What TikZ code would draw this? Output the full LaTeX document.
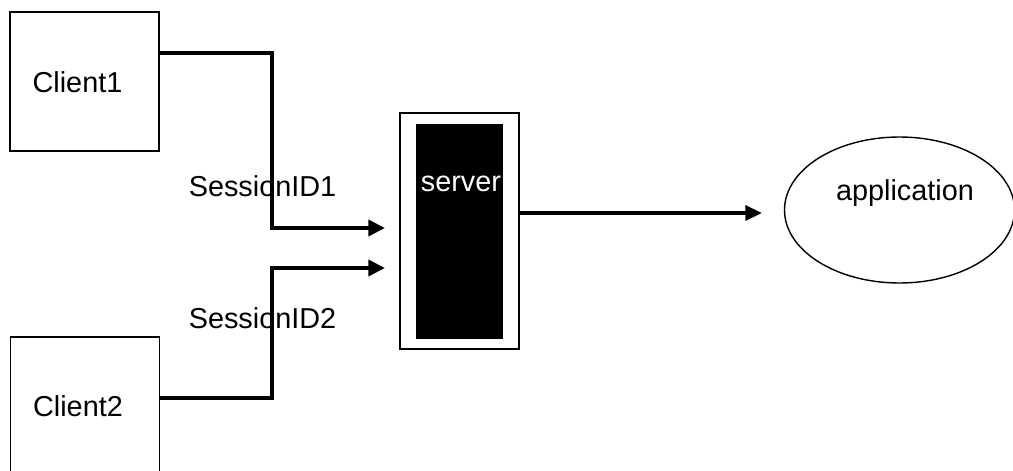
\documentclass[tikz,border=0pt]{standalone}
\usepackage{fontspec}
\setmainfont{Liberation Sans}
\usetikzlibrary{arrows.meta,shapes.geometric,calc}

\begin{document}
\begin{tikzpicture}[
  font=\fontsize{16.4}{19}\selectfont,
  client/.style={draw, line width=1.1pt, minimum width=2.98cm, minimum height=2.78cm},
  link/.style={line width=2.4pt, -{Triangle[length=9.5pt, width=9pt]}},
  label/.style={inner sep=0pt}
]
\useasboundingbox (0,0) rectangle (20.26,9.4);

% clients and server
\node[client] (client1) at (1.69,7.77) {};
\node[label] (c1text) at (1.55,7.75) {Client1};
\node[client] (client2) at (1.70,1.27) {};
\node[label] (c2text) at (1.56,1.27) {Client2};
\node[draw, line width=1.1pt, fill=white, minimum width=2.38cm, minimum height=4.72cm] (server) at (9.19,4.78) {};
\node[fill=black, minimum width=1.74cm, minimum height=4.3cm, inner sep=0pt] (core) at (9.19,4.77) {};
\node[label, text=white] (srvtext) at (9.22,5.72) {server};
\node[draw, ellipse, line width=0.8pt, minimum width=4.6cm, minimum height=2.92cm] (app) at (17.99,5.2) {};
\node[label] (apptext) at (18.1,5.54) {application};

\node[label] (sid1) at (5.25,5.68) {SessionID1};
\node[label] (sid2) at (5.25,3.04) {SessionID2};

% arrow ends in front of the server
\coordinate (in1) at (7.7,4.84);
\coordinate (in2) at (7.7,4.04);
\coordinate (out) at (15.24,5.14);

\draw[link] (client1.east |- 0,8.34) -| (5.44,4.84) -- (in1);
\draw[link] (client2.east |- 0,1.44) -| (5.44,4.04) -- (in2);
\draw[line width=2pt, -{Triangle[length=9.5pt, width=8.5pt]}] (server.east |- out) -- (out);

\end{tikzpicture}
\end{document}
